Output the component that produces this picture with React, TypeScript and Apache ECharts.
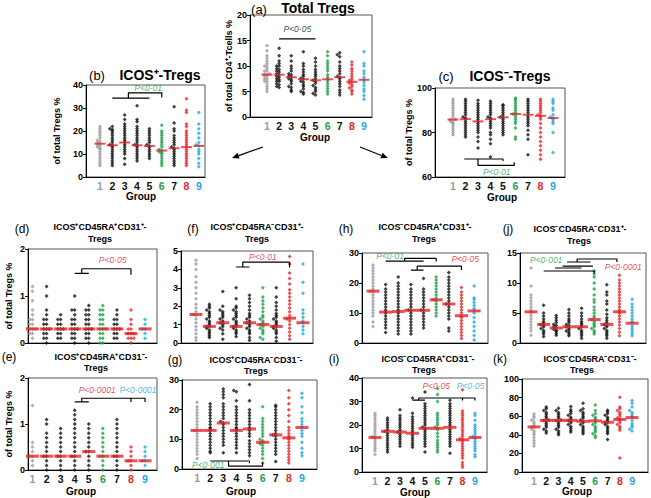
import React, { useEffect, useRef } from "react";
import * as echarts from "echarts";

const FONT = '"Liberation Sans", Arial, Helvetica, sans-serif';
const GRAY = "#9b9b9b";
const GREEN = "#1f9e48";
const RED = "#e3262b";
const BLUE = "#1fa8e0";
const BLACK = "#111111";

const groupNumbers = [1, 2, 3, 4, 5, 6, 7, 8, 9];
const groupColors = [GRAY, BLACK, BLACK, BLACK, BLACK, GREEN, BLACK, RED, BLUE];

// (a) Total Tregs, % of total CD4+ T cells
const aValues = [
  [5, 5.5, 6, 6.5, 7, 7, 7.5, 7.5, 8, 8, 8.3, 8.5, 8.5, 9, 9, 9.5, 10, 10, 10.5, 11, 11.5, 12, 13, 14],
  [5.8, 6, 6.3, 6.5, 7, 7, 7.3, 7.5, 7.8, 8, 8.3, 8.5, 8.8, 9, 9.3, 9.5, 10, 10, 10.5, 11, 12, 13.5],
  [5, 5.3, 5.8, 6, 6.5, 7, 7.3, 7.5, 7.8, 8, 8.3, 8.5, 9, 9.5, 10, 11, 12],
  [4.5, 4.8, 5, 5.5, 6, 6.3, 6.8, 7, 7.4, 7.6, 8, 8.3, 8.8, 9.3, 10, 10.5, 12.8],
  [4.3, 4.6, 5, 5.4, 5.8, 6.2, 6.6, 7, 7.2, 7.5, 8, 8.4, 8.8, 9.3, 10, 10.8, 11.5],
  [4.5, 5, 5.5, 6, 6.5, 7, 7.4, 7.8, 8.3, 9, 9.5, 10, 10.5, 11, 12, 12.8],
  [4.3, 4.8, 5.3, 6, 6.5, 7, 7.5, 7.8, 8, 8.5, 9, 9.5, 10, 10.8, 11.8, 12.2, 12.6],
  [4.5, 5, 5.3, 5.7, 6, 6.3, 6.6, 6.9, 7.2, 7.5, 8, 8.5, 9, 9.5, 10.2, 10.8],
  [3.5, 4.2, 5, 5.5, 6.2, 6.8, 7.3, 7.8, 8.5, 9, 10, 10.5, 12.8],
];
const aMedians = [8.3, 8.3, 7.8, 7.4, 7.2, 7.4, 7.8, 6.9, 7.3];

// (b) ICOS+ Tregs
const bValues = [
  [5, 6, 7, 8, 9, 10, 11, 12, 12.5, 13, 13.5, 14, 14.5, 15, 15.5, 16, 17, 18, 19, 20, 21, 22],
  [5, 6, 7, 8, 9, 10, 11, 12, 13, 13.8, 14, 15, 16, 17, 18, 19, 20, 20.5, 21, 22],
  [5.5, 8, 10, 11, 12, 13, 14, 15, 16, 17, 18, 19, 20, 21, 22, 23, 25, 27],
  [7, 8, 9, 10, 11, 12, 13, 13.8, 14, 15, 16, 17, 18, 19, 20, 21, 22, 24, 25, 31],
  [8, 9, 10, 11, 12, 13, 13.5, 14, 15, 16, 17, 18, 19, 20, 21],
  [5, 6, 7, 8, 9, 10, 10.5, 11, 11.5, 12, 13, 14, 15, 16, 17, 18, 19, 20, 22.5],
  [5, 6, 7, 8, 9, 10, 11, 12, 12.5, 13, 14, 15, 16, 17, 18, 20, 21, 23.5, 30.5],
  [5, 6, 7, 8, 9, 10, 11, 12, 13, 14, 15, 16, 17, 18, 19, 20, 22, 23, 28, 29, 34],
  [4.5, 6, 8, 10, 11, 12, 13.5, 14, 15, 17, 19, 21, 23, 28],
];
const bMedians = [14.5, 13.8, 15, 13.8, 13.5, 11.5, 12.5, 13, 13.5];

// (c) ICOS- Tregs
const cValues = [
  [79, 80, 81, 82, 83, 84, 84.5, 85, 85.5, 85.8, 86, 87, 88, 89, 90, 91, 92, 93, 94, 95],
  [78, 79, 80, 81, 82, 83, 84, 85, 86, 86.5, 87, 88, 89, 90, 91, 92, 93, 94, 95],
  [73, 76, 78, 80, 81, 82, 83, 84, 85, 86, 87, 88, 89, 90, 91, 92, 93, 94.5],
  [69, 75, 77, 79, 80, 82, 83, 84, 85, 86, 86.5, 87, 88, 89, 90, 91, 92, 93, 94],
  [79, 80, 81, 82, 83, 84, 85, 86, 86.8, 87, 88, 89, 90, 91, 92, 92.5],
  [77, 78, 82, 84, 85, 86, 87, 88, 88.3, 89, 90, 91, 92, 93, 94, 95, 95.5],
  [70, 77, 79, 81, 83, 84, 85, 86, 87, 88, 89, 90, 91, 92, 93, 94, 95],
  [68, 70, 72, 74, 76, 78, 80, 82, 84, 86, 87, 87.5, 88, 89, 90, 91, 92, 93, 94, 95],
  [71, 80, 84, 85, 86, 86.5, 87, 88, 90, 91, 93, 94, 95],
];
const cMedians = [85.8, 86, 85, 86, 86.8, 88.3, 88, 87.5, 86.5];

// (d) ICOS+CD45RA+CD31+
const dValues = [
  [0.1, 0.2, 0.2, 0.3, 0.3, 0.3, 0.4, 0.4, 0.5, 0.5, 0.6, 0.7, 0.9, 1.1, 1.2],
  [0, 0.1, 0.1, 0.2, 0.2, 0.3, 0.3, 0.3, 0.4, 0.4, 0.5, 0.5, 0.6, 0.7, 1.0, 1.2],
  [0.1, 0.1, 0.2, 0.2, 0.3, 0.3, 0.3, 0.4, 0.4, 0.5, 0.5, 0.6],
  [0, 0.1, 0.1, 0.2, 0.2, 0.3, 0.3, 0.3, 0.4, 0.4, 0.5, 0.5, 0.6, 0.7, 0.7, 1.0],
  [0, 0.1, 0.1, 0.2, 0.2, 0.3, 0.3, 0.3, 0.4, 0.4, 0.5, 0.5, 0.6, 0.6, 0.7, 0.7, 0.8],
  [0, 0, 0.1, 0.1, 0.2, 0.2, 0.3, 0.3, 0.3, 0.4, 0.4, 0.5, 0.5, 0.6, 0.6, 0.7, 0.7, 0.8],
  [0.1, 0.1, 0.2, 0.2, 0.3, 0.3, 0.3, 0.4, 0.4, 0.5, 0.5, 0.6, 0.7],
  [0, 0.1, 0.1, 0.1, 0.2, 0.2, 0.2, 0.3, 0.3, 0.4, 0.5, 0.7],
  [0.1, 0.2, 0.3, 0.3, 0.4, 0.5],
];
const dMedians = [0.3, 0.3, 0.3, 0.3, 0.3, 0.3, 0.3, 0.2, 0.3];

// (e) ICOS+CD45RA+CD31-
const eValues = [
  [0.1, 0.2, 0.3, 0.3, 0.4, 0.5, 0.6, 1.4],
  [0, 0.1, 0.2, 0.3, 0.3, 0.4, 0.5, 0.6, 0.7, 0.8, 1.0, 1.1],
  [0, 0.1, 0.2, 0.3, 0.3, 0.4, 0.5, 0.6, 0.7, 0.8, 0.9],
  [0, 0.1, 0.2, 0.3, 0.3, 0.4, 0.5, 0.6, 0.7, 0.8, 0.9, 1.0, 1.1, 1.2, 1.3],
  [0, 0.1, 0.2, 0.3, 0.4, 0.4, 0.5, 0.6, 0.7, 0.8, 0.9, 1.0],
  [0, 0.1, 0.2, 0.3, 0.3, 0.4, 0.5, 0.6, 0.7, 0.8, 0.9],
  [0, 0.1, 0.2, 0.3, 0.3, 0.4, 0.5, 0.6, 0.7, 0.8, 0.9, 1.0, 1.1],
  [0, 0.1, 0.2, 0.2, 0.3, 0.4, 0.5],
  [0.1, 0.2, 0.2, 0.3, 0.4, 0.5],
];
const eMedians = [0.3, 0.3, 0.3, 0.3, 0.4, 0.3, 0.3, 0.2, 0.2];

// (f) ICOS+CD45RA-CD31+
const fValues = [
  [0.15, 0.3, 0.5, 0.7, 0.9, 1.1, 1.3, 1.5, 1.55, 1.7, 1.9, 2.1, 2.4, 2.7, 3.0, 3.3, 3.6, 4.0, 4.3, 4.5],
  [0.3, 0.4, 0.5, 0.6, 0.7, 0.8, 0.9, 0.9, 1.0, 1.1, 1.2, 1.3, 1.4, 1.5, 1.6, 1.7, 1.8, 1.9, 2.0, 2.1],
  [0.2, 0.5, 0.7, 0.8, 0.9, 1.0, 1.1, 1.1, 1.2, 1.3, 1.4, 1.5, 1.6, 1.7, 1.8, 2.0, 2.8],
  [0.35, 0.5, 0.6, 0.7, 0.8, 0.9, 0.9, 1.0, 1.1, 1.2, 1.3, 1.4, 1.5, 1.6, 1.7, 1.8, 1.9, 2.0, 2.4, 3.0],
  [0.15, 0.3, 0.5, 0.6, 0.7, 0.8, 0.9, 1.0, 1.1, 1.1, 1.2, 1.3, 1.4, 1.5, 1.6, 1.8, 2.0, 2.2, 2.4, 2.6],
  [0.2, 0.3, 0.5, 0.6, 0.7, 0.8, 0.9, 1.0, 1.0, 1.1, 1.2, 1.3, 1.4, 1.5, 1.7, 1.9, 2.1, 2.3, 2.5, 3.0],
  [0.1, 0.3, 0.5, 0.6, 0.7, 0.8, 0.9, 0.9, 1.0, 1.1, 1.2, 1.3, 1.4, 1.5, 1.6, 1.8, 2.0, 2.2, 2.5, 3.0],
  [0.2, 0.4, 0.6, 0.8, 1.0, 1.2, 1.3, 1.35, 1.5, 1.7, 1.9, 2.1, 2.3, 2.5, 2.7, 2.9, 3.2, 3.5, 3.8, 4.3, 4.7],
  [0.5, 0.7, 0.9, 1.1, 1.2, 1.4, 1.6, 1.8, 2.7, 3.3, 4.3],
];
const fMedians = [1.55, 0.9, 1.1, 0.9, 1.1, 1.0, 0.9, 1.35, 1.1];

// (g) ICOS+CD45RA-CD31-
const gValues = [
  [3.5, 5, 6, 7, 8, 9, 10, 11, 12, 13, 13, 14, 15, 16, 17, 18, 19, 20, 21, 22.5],
  [5.5, 6, 7, 8, 9, 10, 11, 12, 13, 13.5, 14, 15, 16, 17, 18, 19, 20, 21, 22],
  [5.5, 8, 9, 10, 11, 12, 13, 14, 15, 15.5, 16, 17, 18, 19, 20, 21, 22, 24, 25, 26, 27],
  [5.5, 7, 8, 9, 10, 11, 12, 13, 13.5, 14, 15, 16, 17, 18, 19, 20, 21, 23, 26, 26.5],
  [4.5, 5.5, 6.5, 7.5, 8.5, 9.5, 11, 12, 13, 13.5, 14, 15, 16, 17, 18, 19, 20, 23, 28.5],
  [2, 3.5, 5, 6, 7, 8, 8.5, 9, 9.5, 10, 11, 12, 13, 14, 15, 16, 17, 21],
  [2.5, 5, 6, 7, 8, 9, 10, 11, 11.5, 12, 13, 14, 15, 16, 17, 18, 19, 20, 21, 21.5],
  [2, 3, 4, 5, 6, 7, 8, 9, 10, 10.5, 11, 12, 13, 14, 16, 18, 20, 22, 24, 26.5],
  [4.5, 5.5, 7, 9, 11, 12, 13, 14, 15, 16, 17, 19, 21, 24, 25.5],
];
const gMedians = [13, 13, 15.5, 13, 13.5, 9, 11.5, 10.5, 14];

// (h) ICOS-CD45RA+CD31+
const hValues = [
  [5.5, 7, 9, 10, 11, 12, 13, 14, 15, 16, 17, 17.3, 18, 19, 20, 21, 22, 23, 24, 25, 26],
  [3.5, 5, 6, 7, 8, 9, 10, 10.3, 11, 12, 13, 14, 15, 16, 17, 18, 19.5],
  [3, 4, 5, 6, 7, 8, 9, 10, 10.5, 11, 12, 13, 14, 15, 16, 17, 18, 19, 20, 22],
  [3, 4, 5, 6, 7, 8, 9, 10, 10.9, 11, 12, 13, 14, 15, 16, 17, 18, 19.5],
  [5, 6, 7, 8, 9, 10, 10.9, 11, 12, 13, 14, 15, 16, 17, 18, 21.5],
  [9, 10, 11, 12, 13, 14, 14.4, 15, 16, 17, 18, 19, 20, 21, 22],
  [4, 5, 8, 9, 10, 11, 12, 13, 13, 14, 15, 16, 17, 18, 19, 20, 21, 22, 23.5],
  [1.5, 2.5, 3.5, 4.5, 5.5, 6.5, 7.5, 8.5, 9.1, 10, 11, 12, 13, 14, 15, 16, 17, 18.5],
  [1, 2.5, 4, 5.5, 7, 8.5, 10, 10.7, 11.5, 12.5, 13.5, 14.5, 15, 19],
];
const hMedians = [17.3, 10.3, 10.5, 10.9, 10.9, 14.4, 13, 9.1, 10.7];

// (i) ICOS-CD45RA+CD31-
const iValues = [
  [7.5, 9, 10, 11, 12, 13, 14, 14.7, 15, 16, 17, 18, 19, 20, 21, 22, 23, 24, 25],
  [8.5, 9.5, 10.5, 11.5, 12.5, 13.5, 14.5, 15.5, 16.5, 17.3, 18, 19, 20, 21, 22, 23],
  [11, 12, 13, 14, 15, 16, 17, 17, 18, 19, 20, 21, 22, 23, 24, 26.5],
  [10.5, 11.5, 12.5, 13.5, 14.5, 15.5, 16.5, 17.5, 18.5, 19.5, 20.5, 21.5, 22.5, 23.5, 25, 31.5],
  [8.5, 11, 12, 13, 14, 15, 16, 17, 18, 18.6, 19, 20, 21, 22, 23, 24, 25, 26, 27, 28, 29, 34],
  [8.5, 9.5, 10.5, 11.5, 12.5, 13.5, 15, 16.5, 18, 18.6, 19, 20, 21, 22, 23, 24, 25, 30, 33, 35.5],
  [8, 11, 12, 13, 14, 15, 16, 17, 18, 19, 20, 21, 22, 23, 24, 25, 26, 27, 28, 29, 30.5],
  [2, 3, 4, 6, 7, 8, 9, 10, 11, 12, 13, 13.7, 14, 15, 16, 17, 18, 19, 20, 21, 22, 23, 24, 25, 26, 35],
  [6.5, 7.5, 9, 10, 11, 12, 13, 14, 14.7, 15, 16, 17, 18, 19, 20, 22, 24, 25],
];
const iMedians = [14.7, 17.3, 17, 16.5, 18.6, 18.6, 19, 13.7, 14.7];

// (j) ICOS-CD45RA-CD31+
const jValues = [
  [1.3, 2, 2.5, 3, 3.5, 4, 4.5, 5, 5.2, 5.5, 6, 6.5, 7, 7.5, 8, 9.5, 12.5],
  [1.1, 1.5, 1.8, 2.1, 2.4, 2.7, 3, 3.1, 3.3, 3.6, 4, 4.5, 5, 6.3],
  [1.3, 1.6, 1.9, 2.1, 2.3, 2.5, 2.7, 2.9, 3.1, 3.4, 3.8, 4.2, 4.6],
  [1.2, 1.5, 1.8, 2, 2.2, 2.5, 2.7, 2.9, 3.1, 3.4, 3.7, 4, 4.5, 5, 5.6],
  [0.8, 1.2, 1.5, 1.8, 2.1, 2.4, 2.7, 3, 3.3, 3.6, 4, 4.5, 5, 5.8],
  [1.5, 1.8, 2.1, 2.4, 2.7, 3, 3.3, 3.6, 3.9, 4.2, 4.5, 5, 5.5, 6, 6.8, 7.2, 8, 9, 10, 11, 11.5, 12],
  [0.8, 1.2, 1.5, 1.8, 2.1, 2.4, 2.7, 3, 3.1, 3.4, 3.8, 4.2, 4.8, 5.5, 6.5, 7, 8, 8.5, 9.7],
  [1.2, 1.8, 2.4, 3, 3.5, 4, 4.5, 5, 5.2, 5.5, 6, 6.5, 7, 7.5, 8, 8.5, 9, 9.5, 10, 10.5, 11.3],
  [1.2, 1.6, 2, 2.4, 2.8, 3.3, 3.6, 4, 4.5, 5, 5.5, 6, 6.5, 7.3],
];
const jMedians = [5.2, 3.1, 2.5, 2.7, 2.7, 3.9, 3.1, 5.2, 3.3];

// (k) ICOS-CD45RA-CD31-
const kValues = [
  [28, 31, 34, 37, 40, 42, 44, 46, 48, 48.5, 50, 52, 54, 56, 58, 60, 62.5],
  [42, 44, 46, 48, 50, 52, 54, 55.5, 56, 58, 60, 62, 64, 66, 68, 70],
  [40, 42, 44, 46, 48, 50, 52, 54, 55.5, 56, 58, 60, 62, 64, 66, 68.5],
  [43, 45, 47, 49, 51, 53, 55, 55.5, 57, 59, 61, 63, 65, 67, 70.5],
  [41, 43, 45, 47, 49, 51, 53, 54.5, 56, 58, 60, 62, 64, 66, 68, 74],
  [37, 39, 41, 43, 45, 47, 49, 51, 53, 55, 57, 59, 61, 63, 66, 72],
  [35, 41, 43, 45, 47, 49, 51, 53, 53.5, 55, 57, 59, 61, 63, 65, 66.5],
  [15, 45, 47, 49, 51, 53, 55, 56.5, 58, 60, 62, 64, 66, 68, 70, 80.5],
  [44, 46, 48, 50, 52, 55, 58.5, 60, 62, 64, 66, 70, 74, 77],
];
const kMedians = [48.5, 55.5, 55.5, 55.5, 54.5, 55, 53.5, 56.5, 58.5];

// Significance brackets (group, value) and P-value notes
const aBrackets = [[[2, 15.3], [5, 15.3]]];
const aNotes = [{ x: 3.5, y: 17.2, t: "<0·05", c: BLACK }];
const bBrackets = [
  [[2, 34.3], [5, 34.3]],
  [[3.3, 34.3], [3.3, 36.6], [6, 36.6], [6, 34.6]],
];
const bNotes = [{ x: 4.9, y: 38.5, t: "<0·01", c: GREEN }];
const cBrackets = [
  [[1.9, 68.1], [5, 68.1], [5, 67.2]],
  [[3, 68.1], [3, 65.2], [5.9, 65.2], [5.9, 66.6]],
];
const cNotes = [{ x: 4.5, y: 62.4, t: "<0·01", c: GREEN }];
const dBrackets = [
  [[4, 1.48], [5, 1.48]],
  [[4.5, 1.48], [4.5, 1.58], [8, 1.58], [8, 1.45]],
];
const dNotes = [{ x: 6.7, y: 1.76, t: "<0·05", c: RED }];
const eBrackets = [
  [[4, 1.48], [5, 1.48]],
  [[4.5, 1.48], [4.5, 1.56], [8, 1.56], [8, 1.48]],
  [[8, 1.56], [9, 1.56], [9, 1.48]],
];
const eNotes = [
  { x: 5.6, y: 1.74, t: "<0·0001", c: RED },
  { x: 8.5, y: 1.74, t: "<0·0001", c: BLUE },
];
const fBrackets = [
  [[4, 4.13], [5, 4.13]],
  [[4.5, 4.13], [4.5, 4.4], [8, 4.4], [8, 4.1]],
];
const fNotes = [{ x: 6.0, y: 4.65, t: "<0·01", c: RED }];
const gBrackets = [
  [[2, 2.7], [5, 2.7], [5, 1.9]],
  [[3.4, 2.7], [3.4, 1.0], [6, 1.0], [6, 2.3]],
];
const gNotes = [{ x: 1.85, y: 1.35, t: "<0·001", c: GREEN }];
const hBrackets = [
  [[2, 27.3], [5, 27.3]],
  [[3.5, 27.3], [3.5, 28.2], [6, 28.2], [6, 27.2]],
  [[4, 24.3], [5, 24.3]],
  [[4.5, 24.3], [4.5, 25.6], [8, 25.6], [8, 24.3]],
];
const hNotes = [
  { x: 2.35, y: 29.0, t: "<0·01", c: GREEN },
  { x: 8.3, y: 28.0, t: "<0·05", c: RED },
];
const iBrackets = [
  [[4, 30.6], [5, 30.6]],
  [[4.5, 30.6], [4.5, 31.5], [9, 31.5], [9, 30.4]],
  [[8, 31.5], [8, 30.4]],
];
const iNotes = [
  { x: 5.9, y: 36.6, t: "<0·05", c: RED },
  { x: 8.64, y: 36.6, t: "<0·05", c: BLUE },
];
const jBrackets = [
  [[2, 12.0], [6, 12.0], [6, 11.6]],
  [[2.9, 12.5], [5, 12.5]],
  [[3.5, 12.8], [5.9, 12.8]],
  [[3.85, 13.5], [5.7, 13.5]],
  [[4.65, 13.5], [4.65, 14.0], [7.8, 14.0], [7.8, 13.5]],
];
const jNotes = [
  { x: 2.2, y: 13.8, t: "<0·001", c: GREEN },
  { x: 8.3, y: 12.7, t: "<0·0001", c: RED },
];
const kBrackets: number[][][] = [];
const kNotes: { x: number; y: number; t: string; c: string }[] = [];

type Note = { x: number; y: number; t: string; c: string };
type Panel = {
  grid: { left: number; top: number; width: number; height: number };
  x: [number, number];
  y: [number, number, number];
  values: number[][];
  medians: number[];
  brackets: number[][][];
  notes: Note[];
  xLabels: boolean;
  yName?: string;
  yNameGap?: number;
  bar: [number, number];
};

const panels: Panel[] = [
  { grid: { left: 250, top: 15, width: 122, height: 102 }, x: [-0.4, 9.66], y: [0, 20, 5], values: aValues, medians: aMedians, brackets: aBrackets, notes: aNotes, xLabels: true, yName: "of total CD4⁺-Tcells %", yNameGap: 15, bar: [11, 2] },
  { grid: { left: 86, top: 85, width: 119, height: 92 }, x: [-0.13, 9.5], y: [0, 40, 10], values: bValues, medians: bMedians, brackets: bBrackets, notes: bNotes, xLabels: true, yName: "of total Tregs %", yNameGap: 25, bar: [11, 2] },
  { grid: { left: 435, top: 88, width: 130, height: 89 }, x: [-0.44, 9.96], y: [60, 100, 20], values: cValues, medians: cMedians, brackets: cBrackets, notes: cNotes, xLabels: true, yName: "of total Tregs %", yNameGap: 18, bar: [11, 2] },
  { grid: { left: 28, top: 249, width: 129, height: 94 }, x: [0.68, 9.85], y: [0, 2, 1], values: dValues, medians: dMedians, brackets: dBrackets, notes: dNotes, xLabels: false, yName: "of total Tregs %", yNameGap: 15, bar: [13, 3] },
  { grid: { left: 28, top: 378, width: 129, height: 92 }, x: [0.68, 9.85], y: [0, 2, 1], values: eValues, medians: eMedians, brackets: eBrackets, notes: eNotes, xLabels: true, yName: "of total Tregs %", yNameGap: 15, bar: [13, 3] },
  { grid: { left: 181, top: 251, width: 132, height: 92 }, x: [-0.12, 9.75], y: [0, 5, 1], values: fValues, medians: fMedians, brackets: fBrackets, notes: fNotes, xLabels: false, bar: [13, 3] },
  { grid: { left: 182, top: 380, width: 135, height: 89 }, x: [-0.15, 10.15], y: [0, 30, 10], values: gValues, medians: gMedians, brackets: gBrackets, notes: gNotes, xLabels: true, bar: [13, 3] },
  { grid: { left: 362, top: 253, width: 126, height: 90 }, x: [0.13, 10.1], y: [0, 30, 10], values: hValues, medians: hMedians, brackets: hBrackets, notes: hNotes, xLabels: false, bar: [13, 3] },
  { grid: { left: 362, top: 378, width: 125, height: 94 }, x: [-0.04, 9.96], y: [0, 40, 10], values: iValues, medians: iMedians, brackets: iBrackets, notes: iNotes, xLabels: true, bar: [13, 3] },
  { grid: { left: 520, top: 253, width: 126, height: 90 }, x: [0.13, 10.1], y: [0, 15, 5], values: jValues, medians: jMedians, brackets: jBrackets, notes: jNotes, xLabels: false, bar: [13, 3] },
  { grid: { left: 522, top: 379, width: 126, height: 93 }, x: [0.02, 10.3], y: [0, 100, 20], values: kValues, medians: kMedians, brackets: kBrackets, notes: kNotes, xLabels: true, bar: [13, 3] },
];

const titles = [
  { t: "(a)", x: 259, y: 9, s: 13, b: false },
  { t: "Total Tregs", x: 318, y: 8, s: 14, b: true },
  { t: "(b)", x: 97, y: 75, s: 13, b: false },
  { t: "ICOS⁺-Tregs", x: 160, y: 75, s: 14, b: true },
  { t: "(c)", x: 446, y: 76, s: 13, b: false },
  { t: "ICOS⁻-Tregs", x: 510, y: 76, s: 14, b: true },
  { t: "(d)", x: 22, y: 229, s: 12, b: false },
  { t: "ICOS⁺CD45RA⁺CD31⁺-", x: 100, y: 227, s: 9, b: true },
  { t: "Tregs", x: 100, y: 239, s: 9, b: true },
  { t: "(f)", x: 193, y: 229, s: 12, b: false },
  { t: "ICOS⁺CD45RA⁻CD31⁺-", x: 257, y: 227, s: 9, b: true },
  { t: "Tregs", x: 257, y: 239, s: 9, b: true },
  { t: "(h)", x: 346, y: 229, s: 12, b: false },
  { t: "ICOS⁻CD45RA⁺CD31⁺-", x: 425, y: 227, s: 9, b: true },
  { t: "Tregs", x: 424, y: 239, s: 9, b: true },
  { t: "(j)", x: 508, y: 229, s: 12, b: false },
  { t: "ICOS⁻CD45RA⁻CD31⁺-", x: 580, y: 229, s: 9, b: true },
  { t: "Tregs", x: 579, y: 241, s: 9, b: true },
  { t: "(e)", x: 9, y: 357, s: 12, b: false },
  { t: "ICOS⁺CD45RA⁺CD31⁻-", x: 101, y: 357, s: 9, b: true },
  { t: "Tregs", x: 96, y: 368, s: 9, b: true },
  { t: "(g)", x: 175, y: 360, s: 12, b: false },
  { t: "ICOS⁺CD45RA⁻CD31⁻-", x: 256, y: 360, s: 9, b: true },
  { t: "Tregs", x: 256, y: 371, s: 9, b: true },
  { t: "(i)", x: 334, y: 359, s: 12, b: false },
  { t: "ICOS⁻CD45RA⁺CD31⁻-", x: 428, y: 359, s: 9, b: true },
  { t: "Tregs", x: 424, y: 370, s: 9, b: true },
  { t: "(k)", x: 500, y: 359, s: 12, b: false },
  { t: "ICOS⁻CD45RA⁻CD31⁻-", x: 590, y: 359, s: 9, b: true },
  { t: "Tregs", x: 582, y: 370, s: 9, b: true },
  { t: "Group", x: 315, y: 137, s: 10, b: true },
  { t: "Group", x: 141, y: 196, s: 10, b: true },
  { t: "Group", x: 502, y: 197, s: 10, b: true },
  { t: "Group", x: 81, y: 491, s: 10, b: true },
  { t: "Group", x: 241, y: 491, s: 10, b: true },
  { t: "Group", x: 415, y: 492, s: 10, b: true },
  { t: "Group", x: 577, y: 491, s: 10, b: true },
];

const arrows = [
  { from: [263, 147], to: [232, 158] },
  { from: [360, 147], to: [388, 158] },
];

function swarm(values: number[], g: number, bin: number, step: number) {
  const counts = new Map<number, number>();
  return [...values]
    .sort((a, b) => a - b)
    .map((v) => {
      const key = Math.round(v / bin);
      const k = counts.get(key) ?? 0;
      counts.set(key, k + 1);
      const slot = k % 3;
      const off = slot === 0 ? 0 : slot === 1 ? -step : step;
      return [g + off, v];
    });
}

function buildOption() {
  const grid: any[] = [];
  const xAxis: any[] = [];
  const yAxis: any[] = [];
  const series: any[] = [];
  const rich: any = {};
  groupNumbers.forEach((n, i) => {
    rich["g" + n] = { color: groupColors[i], fontWeight: "bold", fontSize: 10.5, fontFamily: FONT };
  });

  panels.forEach((p, i) => {
    grid.push({ ...p.grid, show: true, borderColor: "#555", borderWidth: 1, backgroundColor: "transparent" });
    xAxis.push({
      gridIndex: i,
      type: "value",
      min: p.x[0],
      max: p.x[1],
      axisLine: { show: true, onZero: false, lineStyle: { color: "#000", width: 1 } },
      axisTick: { show: false },
      splitLine: { show: false },
      axisLabel: p.xLabels
        ? { show: true, customValues: groupNumbers, formatter: (v: number) => `{g${v}|${v}}`, rich, margin: 3 }
        : { show: false },
    });
    yAxis.push({
      gridIndex: i,
      type: "value",
      min: p.y[0],
      max: p.y[1],
      interval: p.y[2],
      axisLine: { show: true, onZero: false, lineStyle: { color: "#000", width: 1 } },
      axisTick: { show: true, length: 3, lineStyle: { color: "#000" } },
      splitLine: { show: false },
      axisLabel: { fontSize: 9, fontWeight: "bold", color: "#000", margin: 3, fontFamily: FONT },
      name: p.yName || "",
      nameLocation: "middle",
      nameGap: p.yNameGap || 15,
      nameTextStyle: { fontSize: 9, fontWeight: "bold", color: "#000", fontFamily: FONT },
    });

    const bin = (p.y[1] - p.y[0]) / 40;
    const pts: any[] = [];
    p.values.forEach((vals, gi) => {
      swarm(vals, groupNumbers[gi], bin, 0.2).forEach((pt) => {
        pts.push({ value: pt, itemStyle: { color: groupColors[gi] } });
      });
    });
    series.push({
      type: "scatter",
      xAxisIndex: i,
      yAxisIndex: i,
      symbol: "diamond",
      symbolSize: 4,
      data: pts,
      silent: true,
      z: 3,
    });
    series.push({
      type: "scatter",
      xAxisIndex: i,
      yAxisIndex: i,
      symbol: "rect",
      symbolSize: p.bar,
      itemStyle: { color: RED },
      data: p.medians.map((m, gi) => [groupNumbers[gi], m]),
      silent: true,
      z: 5,
    });
    p.brackets.forEach((br) => {
      series.push({
        type: "line",
        xAxisIndex: i,
        yAxisIndex: i,
        data: br,
        symbol: "none",
        lineStyle: { color: "#000", width: 1.2 },
        silent: true,
        z: 4,
      });
    });
    if (p.notes.length) {
      series.push({
        type: "scatter",
        xAxisIndex: i,
        yAxisIndex: i,
        symbolSize: 0.1,
        itemStyle: { color: "transparent" },
        silent: true,
        z: 6,
        data: p.notes.map((n) => ({
          value: [n.x, n.y],
          label: {
            show: true,
            position: "inside",
            formatter: `{i|P}{n|${n.t}}`,
            rich: {
              i: { fontStyle: "italic", fontSize: 8.5, color: n.c, fontFamily: FONT },
              n: { fontStyle: "italic", fontSize: 8.5, color: n.c, fontFamily: FONT },
            },
          },
        })),
      });
    }
  });

  const graphic: any[] = titles.map((t) => ({
    type: "text",
    x: t.x,
    y: t.y,
    style: {
      text: t.t,
      fontSize: t.s,
      fontWeight: t.b ? "bold" : "normal",
      fontFamily: FONT,
      fill: "#000",
      textAlign: "center",
      textVerticalAlign: "middle",
    },
  }));
  arrows.forEach((a) => {
    const dx = a.to[0] - a.from[0];
    const dy = a.to[1] - a.from[1];
    const len = Math.hypot(dx, dy);
    const ux = dx / len;
    const uy = dy / len;
    const bx = a.to[0] - ux * 7;
    const by = a.to[1] - uy * 7;
    graphic.push({
      type: "line",
      shape: { x1: a.from[0], y1: a.from[1], x2: bx, y2: by },
      style: { stroke: "#000", lineWidth: 1.2 },
    });
    graphic.push({
      type: "polygon",
      shape: {
        points: [
          [a.to[0], a.to[1]],
          [bx - uy * 3, by + ux * 3],
          [bx + uy * 3, by - ux * 3],
        ],
      },
      style: { fill: "#000" },
    });
  });

  return { animation: false, backgroundColor: "#fff", grid, xAxis, yAxis, series, graphic };
}

export default function App() {
  const ref = useRef<HTMLDivElement>(null);
  useEffect(() => {
    if (!ref.current) return;
    const chart = echarts.init(ref.current, undefined, { renderer: "svg" });
    chart.setOption(buildOption() as any);
    return () => chart.dispose();
  }, []);
  return (
    <div
      ref={ref}
      style={{ position: "fixed", left: 0, top: 0, width: 651, height: 498, background: "#fff" }}
    />
  );
}
